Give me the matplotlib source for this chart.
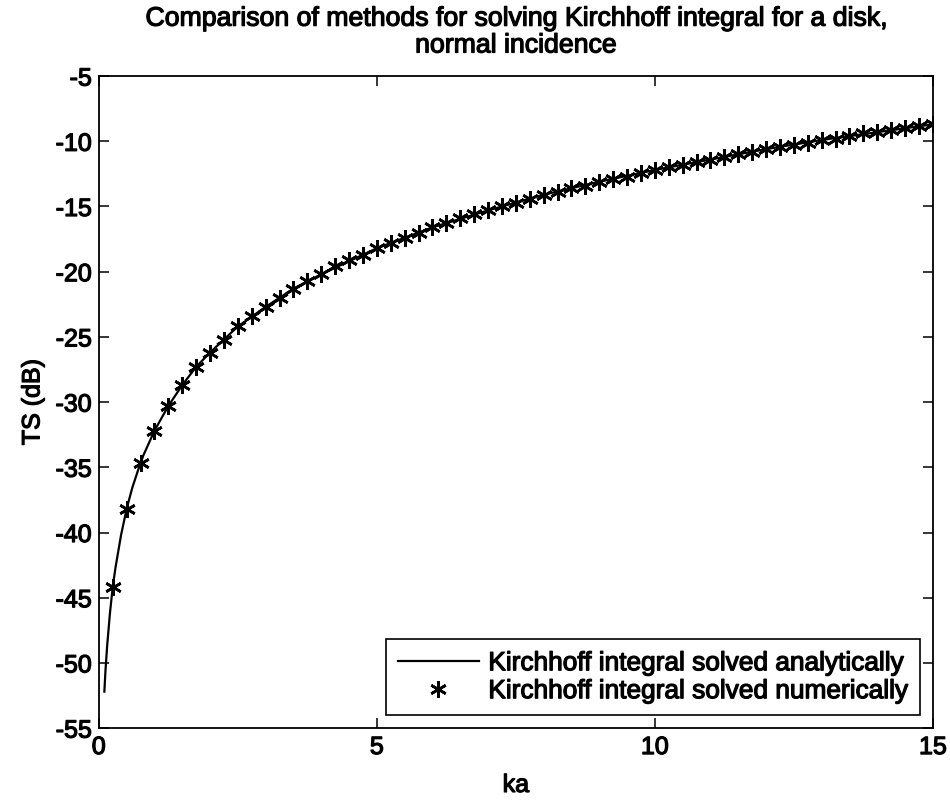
import numpy as np
import matplotlib
matplotlib.use("Agg")
import matplotlib.pyplot as plt
import matplotlib.patheffects as pe

plt.rcParams['font.family'] = ['Liberation Sans', 'DejaVu Sans']
plt.rcParams['axes.unicode_minus'] = False

# analytic solution (line)
ka_line = [0.1, 0.12, 0.15, 0.2, 0.25, 0.3, 0.4, 0.5, 0.6, 0.7, 0.8, 1.0, 1.25, 1.5,
           1.75, 2.0, 2.5, 3.0, 3.5, 4.0, 5.0, 6.0, 7.0, 8.0, 9.0, 10.0, 11.0, 12.0,
           13.0, 14.0, 15.0]
ts_line = [-52.2, -50.6, -48.7, -46.2, -44.2, -42.7, -40.2, -38.2, -36.6, -35.3, -34.1,
           -32.2, -30.3, -28.7, -27.3, -26.2, -24.2, -22.7, -21.3, -20.2, -18.2, -16.6,
           -15.3, -14.1, -13.1, -12.2, -11.4, -10.6, -9.9, -9.3, -8.7]

# numerical solution (markers), ka = 0.25 ... 15
ka_num = [0.25, 0.5, 0.75, 1.0, 1.25, 1.5, 1.75, 2.0, 2.25, 2.5, 2.75, 3.0, 3.25, 3.5,
          3.75, 4.0, 4.25, 4.5, 4.75, 5.0, 5.25, 5.5, 5.75, 6.0, 6.25, 6.5, 6.75, 7.0,
          7.25, 7.5, 7.75, 8.0, 8.25, 8.5, 8.75, 9.0, 9.25, 9.5, 9.75, 10.0, 10.25, 10.5,
          10.75, 11.0, 11.25, 11.5, 11.75, 12.0, 12.25, 12.5, 12.75, 13.0, 13.25, 13.5,
          13.75, 14.0, 14.25, 14.5, 14.75, 15.0]
ts_num = [-44.2, -38.2, -34.7, -32.2, -30.3, -28.7, -27.3, -26.2, -25.2, -24.2, -23.4,
          -22.7, -22.0, -21.3, -20.7, -20.2, -19.6, -19.1, -18.7, -18.2, -17.8, -17.4,
          -17.0, -16.6, -16.3, -15.9, -15.6, -15.3, -15.0, -14.7, -14.4, -14.1, -13.9,
          -13.6, -13.4, -13.1, -12.9, -12.7, -12.4, -12.2, -12.0, -11.8, -11.6, -11.4,
          -11.2, -11.0, -10.8, -10.6, -10.4, -10.3, -10.1, -9.9, -9.8, -9.6, -9.4, -9.3,
          -9.1, -9.0, -8.8, -8.7]

# slightly thickened text, like the scanned original
thick = [pe.withStroke(linewidth=0.9, foreground='black')]
fs = 18

fig = plt.figure(figsize=(9.5, 8.01), dpi=100)
ax = fig.add_axes([0.104, 0.091, 0.878, 0.814])

ax.plot(ka_line, ts_line, color='black', lw=1.6, label='Kirchhoff integral solved analytically')
ax.plot(ka_num, ts_num, ls='none', marker=(6, 2, 0), ms=12, mew=1.9, color='black',
        label='Kirchhoff integral solved numerically')

ax.set_xlim(0, 15)
ax.set_ylim(-55, -5)
ax.set_xticks([0, 5, 10, 15])
ax.set_yticks(np.arange(-55, -4, 5))
ax.tick_params(direction='in', top=True, right=True, length=7, width=1.1, labelsize=fs, pad=5)
for t in ax.get_xticklabels() + ax.get_yticklabels():
    t.set_path_effects(thick)
for s in ax.spines.values():
    s.set_linewidth(1.3)

ax.set_xlabel('ka', fontsize=fs, labelpad=10, path_effects=thick)
ax.set_ylabel('TS (dB)', fontsize=fs, labelpad=8, path_effects=thick)
ax.set_title('Comparison of methods for solving Kirchhoff integral for a disk,\nnormal incidence',
             fontsize=19.2, pad=17, linespacing=1.04, path_effects=thick)

leg = ax.legend(loc='lower right', prop={'size': 18.9},
                frameon=True, fancybox=False, edgecolor='black', borderaxespad=0.5,
                handlelength=3.1, borderpad=0.45, labelspacing=0.15, handletextpad=0.35,
                framealpha=1)
leg.get_frame().set_linewidth(1.2)
for t in leg.get_texts():
    t.set_path_effects(thick)

fig.savefig('out.png', dpi=100)
